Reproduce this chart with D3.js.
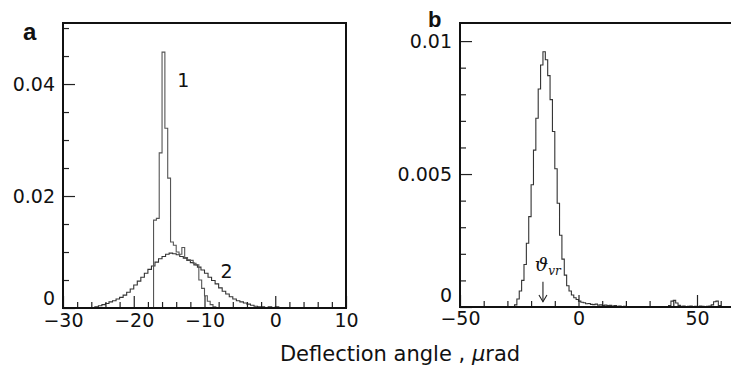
<!DOCTYPE html>
<html><head><meta charset="utf-8">
<script src="https://cdn.jsdelivr.net/npm/d3@7"></script>
<style>
body{margin:0;background:#fff;}
svg{display:block;}
text{font-family:"DejaVu Sans",sans-serif;fill:#111;}
</style></head>
<body><svg id="c" width="731" height="372"></svg>
<script>
// ---------- Panel a data ----------
const c1Edges = [-17.2,-16.8,-16.4,-16.0,-15.6,-15.2,-14.8,-14.4,-14.0,-13.6,-13.2,-12.8,-12.4,-12.0,-11.6,-11.2,-10.8,-10.4,-10.0,-9.6,-9.2,-8.8,-8.4];
const c1Values = [0.0157,0.0160,0.0277,0.0457,0.0321,0.0232,0.0118,0.0112,0.0100,0.0096,0.0108,0.0090,0.0086,0.0085,0.0080,0.0077,0.0050,0.0035,0.0022,0.0012,0.0006,0.0002];

const c2Edges = [-26.0,-25.5,-25.0,-24.5,-24.0,-23.5,-23.0,-22.5,-22.0,-21.5,-21.0,-20.5,-20.0,-19.5,-19.0,-18.5,-18.0,-17.5,-17.0,-16.5,-16.0,-15.5,-15.0,-14.5,-14.0,-13.5,-13.0,-12.5,-12.0,-11.5,-11.0,-10.5,-10.0,-9.5,-9.0,-8.5,-8.0,-7.5,-7.0,-6.5,-6.0,-5.5,-5.0,-4.5,-4.0,-3.5,-3.0,-2.5,-2.0,-1.5,-1.0,-0.5,0.0,0.5,1.0];
const c2Values = [0.0001,0.0002,0.0004,0.0006,0.0008,0.0011,0.0013,0.0016,0.0019,0.0023,0.0028,0.0034,0.0041,0.0048,0.0055,0.0062,0.0069,0.0075,0.0082,0.0088,0.0092,0.0096,0.0098,0.0097,0.0095,0.0092,0.0089,0.0085,0.0081,0.0077,0.0073,0.0068,0.0062,0.0055,0.0049,0.0043,0.0036,0.0030,0.0025,0.0020,0.0016,0.0013,0.0011,0.0009,0.0007,0.0005,0.0003,0.0002,0.0002,0.0001,0.0002,0.0001,0.0002,0.0000];

const aXMajor = [-30,-20,-10,0,10];
const aXMinor = [-28,-26,-24,-22,-18,-16,-14,-12,-8,-6,-4,-2,2,4,6,8];
const aYMajor = [0,0.02,0.04];
const aYMajorLabels = ["0","0.02","0.04"];
const aYMinor = [0.005,0.01,0.015,0.025,0.03,0.035,0.045,0.05];
const aXLabels = ["\u221230","\u221220","\u221210","0","10"];

// ---------- Panel b data ----------
const bEdges = [-29,-28,-27,-26,-25,-24,-23,-22,-21,-20,-19,-18,-17,-16,-15,-14,-13,-12,-11,-10,-9,-8,-7,-6,-5,-4,-3,-2,-1,0,1,2,3,4,5,6,7,8,9,10,11,12,13,14,15,16,17,18,19,20,21,22,23,24,25,26,27,28,29,30,31,32,33,34,35,36,37,38,39,40,41,42,43,44,45,46,47,48,49,50,51,52,53,54,55,56,57,58,59,60,61];
const bValues = [0,0.00002,0.00008,0.0003,0.0006,0.0010,0.0016,0.0024,0.0034,0.0046,0.0059,0.0071,0.0082,0.0091,0.0096,0.0093,0.0087,0.0078,0.0066,0.0052,0.0039,0.0027,0.0018,0.0012,0.0008,0.0006,0.00045,0.00035,0.00028,0.00022,0.00018,0.00016,0.00012,0.00013,0.0001,0.00009,0.00011,0.00007,0.00008,0.00006,0.00007,0.00005,0.00006,0.00004,0.00005,0.00003,0.00004,0.00002,0.00003,0.00002,
0.00002,0.00001,0.00002,0.00001,0.00001,0.00002,0.00001,0.00001,0.00002,0.00001,0.00001,0.00001,0.00002,0.00001,0.00001,0.00002,0.00001,
0.00005,0.00022,0.00025,0.00015,0.00006,
0.00003,0.00004,0.00002,0.00003,0.00004,0.00002,0.00003,0.00002,0.00004,0.00003,0.00002,0.00003,0.00004,
0.00008,0.0002,0.00022,0.00005,0];
const bXMajor = [-50,0,50];
const bXLabels = ["\u221250","0","50"];
const bXMinor = [-40,-30,-20,-10,10,20,30,40,60];
const bYMajor = [0,0.005,0.01];
const bYMajorLabels = ["0","0.005","0.01"];
const bYMinor = [0.001,0.002,0.003,0.004,0.006,0.007,0.008,0.009];

const svg = d3.select("#c");

function histPath(edges, values, x, y){
  const pts = [[edges[0],0]];
  values.forEach((v,i)=>pts.push([edges[i],v]));
  pts.push([edges[values.length], values[values.length-1]]);
  pts.push([edges[values.length], 0]);
  return d3.line().x(d=>x(d[0])).y(d=>y(d[1])).curve(d3.curveStepAfter)(pts);
}

function axes(g, x, y, xMaj, xLab, xMin, yMaj, yLab, yMin, xLabelPad, zeroDy){
  const fs = "19px";
  const ax = g.append("g").attr("transform",`translate(0,${y.range()[0]})`)
    .call(d3.axisBottom(x).tickValues(xMaj).tickSize(-12).tickPadding(xLabelPad).tickFormat((d,i)=>xLab[i]));
  ax.select(".domain").remove();
  ax.selectAll("text").style("font-size",fs).style("font-family","DejaVu Sans");
  ax.selectAll("line").attr("stroke","#222").attr("stroke-width",1.2);
  const axm = g.append("g").attr("transform",`translate(0,${y.range()[0]})`)
    .call(d3.axisBottom(x).tickValues(xMin).tickSize(-6).tickFormat(""));
  axm.select(".domain").remove();
  axm.selectAll("line").attr("stroke","#222").attr("stroke-width",1.2);

  const ay = g.append("g").attr("transform",`translate(${x.range()[0]},0)`)
    .call(d3.axisLeft(y).tickValues(yMaj).tickSize(-12).tickPadding(8).tickFormat((d,i)=>yLab[i]));
  ay.select(".domain").remove();
  ay.selectAll("text").style("font-size",fs).style("font-family","DejaVu Sans");
  ay.selectAll(".tick").filter(d=>d===0).select("text").attr("dy",zeroDy);
  ay.selectAll("line").attr("stroke","#222").attr("stroke-width",1.2);
  const aym = g.append("g").attr("transform",`translate(${x.range()[0]},0)`)
    .call(d3.axisLeft(y).tickValues(yMin).tickSize(-6).tickFormat(""));
  aym.select(".domain").remove();
  aym.selectAll("line").attr("stroke","#222").attr("stroke-width",1.2);
}

// ----- Panel a -----
const xa = d3.scaleLinear().domain([-30,10]).range([63,346]);
const ya = d3.scaleLinear().domain([0,0.0509]).range([308,23]);
const ga = svg.append("g");
ga.append("path").attr("d",histPath(c2Edges,c2Values,xa,ya)).attr("fill","none").attr("stroke","#333").attr("stroke-width",1.1);
ga.append("path").attr("d",histPath(c1Edges,c1Values,xa,ya)).attr("fill","none").attr("stroke","#555").attr("stroke-width",1.1);
axes(ga, xa, ya, aXMajor, aXLabels, aXMinor, aYMajor, aYMajorLabels, aYMinor, 6, "-0.2em");
ga.append("rect").attr("x",63).attr("y",23).attr("width",283).attr("height",285)
  .attr("fill","none").attr("stroke","#111").attr("stroke-width",2);
ga.append("text").attr("x",23).attr("y",40).text("a").style("font-family","Liberation Sans").style("font-weight","bold").style("font-size","24px");
ga.append("text").attr("x",xa(-13.0)).attr("y",ya(0.0395)).attr("text-anchor","middle").style("font-size","19px").text("1");
ga.append("text").attr("x",xa(-6.9)).attr("y",ya(0.0054)).attr("text-anchor","middle").style("font-size","19px").text("2");

// ----- Panel b -----
const xb = d3.scaleLinear().domain([-50,70]).range([460,744.4]);
const yb = d3.scaleLinear().domain([0,0.01068]).range([307,23]);
const gb = svg.append("g");
gb.append("path").attr("d",histPath(bEdges,bValues,xb,yb)).attr("fill","none").attr("stroke","#333").attr("stroke-width",1.1);
axes(gb, xb, yb, bXMajor, bXLabels, bXMinor, bYMajor, bYMajorLabels, bYMinor, 4, "-0.3em");
gb.append("rect").attr("x",460).attr("y",23).attr("width",284.4).attr("height",284)
  .attr("fill","none").attr("stroke","#111").attr("stroke-width",2);
gb.append("text").attr("x",428).attr("y",27).text("b").style("font-family","Liberation Sans").style("font-weight","bold").style("font-size","22px");

// theta_vr annotation
const tv = gb.append("text").attr("x",xb(-18.5)).attr("y",yb(0.00135)).style("font-family","DejaVu Serif").style("font-style","italic").style("font-size","19px");
tv.append("tspan").text("\u03D1");
tv.append("tspan").attr("dy","4").style("font-size","12px").text("vr");
const ax0 = xb(-15);
gb.append("line").attr("x1",ax0).attr("x2",ax0).attr("y1",yb(0.00095)).attr("y2",yb(0.0002)).attr("stroke","#222").attr("stroke-width",1.1);
gb.append("path").attr("d",`M${ax0-4},${yb(0.00045)} L${ax0},${yb(0.0002)} L${ax0+4},${yb(0.00045)}`).attr("fill","none").attr("stroke","#222").attr("stroke-width",1.1);

// x title
svg.append("text").attr("x",400).attr("y",361).attr("text-anchor","middle").style("font-size","21px")
  .html('Deflection angle , <tspan font-style="italic">\u03BC</tspan>rad');
</script></body></html>
